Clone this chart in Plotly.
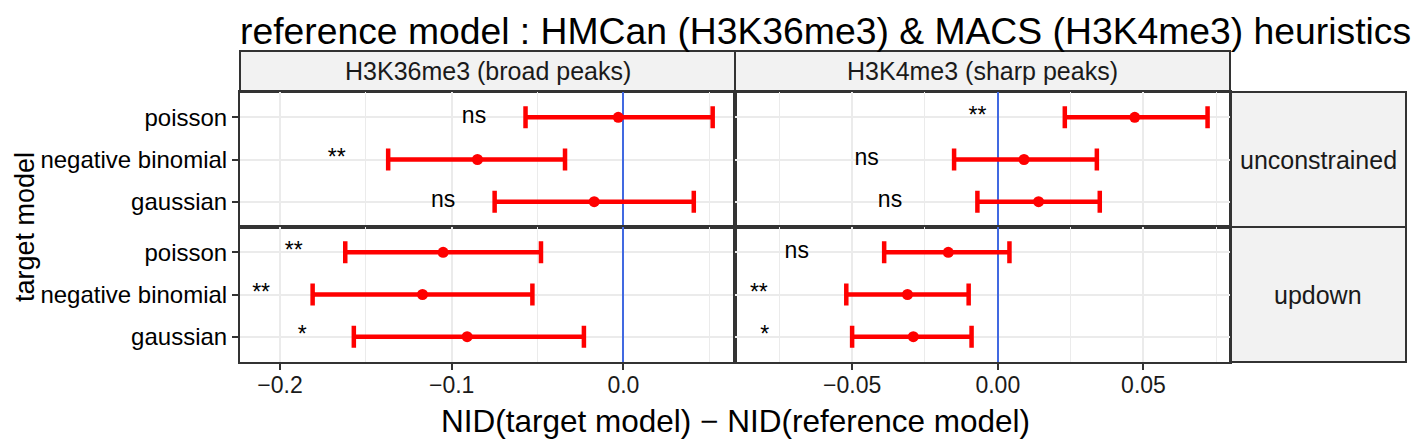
import plotly.graph_objects as go
from plotly.subplots import make_subplots

# ---------------- data ----------------
models = ["poisson", "negative binomial", "gaussian"]
marks = ["H3K36me3 (broad peaks)", "H3K4me3 (sharp peaks)"]
constraints = ["unconstrained", "updown"]

# H3K36me3 (broad peaks)
k36_unc_mean = [-0.003, -0.085, -0.017]
k36_unc_lo = [-0.057, -0.137, -0.075]
k36_unc_hi = [0.052, -0.034, 0.041]
k36_unc_sig = ["ns", "**", "ns"]

k36_up_mean = [-0.105, -0.117, -0.091]
k36_up_lo = [-0.162, -0.181, -0.157]
k36_up_hi = [-0.048, -0.053, -0.023]
k36_up_sig = ["**", "**", "*"]

# H3K4me3 (sharp peaks)
k4_unc_mean = [0.047, 0.009, 0.014]
k4_unc_lo = [0.023, -0.015, -0.007]
k4_unc_hi = [0.072, 0.034, 0.035]
k4_unc_sig = ["**", "ns", "ns"]

k4_up_mean = [-0.017, -0.031, -0.029]
k4_up_lo = [-0.039, -0.052, -0.050]
k4_up_hi = [0.004, -0.010, -0.009]
k4_up_sig = ["ns", "**", "*"]

label_offset = 0.03

left_ticks = [-0.2, -0.1, 0.0]
left_ticktext = ["\u22120.2", "\u22120.1", "0.0"]
left_minor = [-0.15, -0.05, 0.05]
right_ticks = [-0.05, 0.0, 0.05]
right_ticktext = ["\u22120.05", "0.00", "0.05"]
right_minor = [-0.075, -0.025, 0.025, 0.075]

panels = {
    (1, 1): (k36_unc_mean, k36_unc_lo, k36_unc_hi, k36_unc_sig),
    (2, 1): (k36_up_mean, k36_up_lo, k36_up_hi, k36_up_sig),
    (1, 2): (k4_unc_mean, k4_unc_lo, k4_unc_hi, k4_unc_sig),
    (2, 2): (k4_up_mean, k4_up_lo, k4_up_hi, k4_up_sig),
}

# ---------------- layout geometry ----------------
FONT = "Liberation Sans, Arial, Helvetica, sans-serif"
OFF = 8  # default page body margin
W, H = 1424 - OFF, 444 - OFF
P_LEFT, P_RIGHT, P_TOP, P_BOT = 240, 1230, 92, 362  # panel box in page pixels
ML, MT = P_LEFT - OFF, P_TOP - OFF
MR, MB = W - (P_RIGHT - OFF), H - (P_BOT - OFF)
PW, PH = P_RIGHT - P_LEFT, P_BOT - P_TOP


def px_x(x):
    return (x - P_LEFT) / PW


def px_y(y):
    return (P_BOT - y) / PH


fig = make_subplots(rows=2, cols=2, shared_xaxes=True, shared_yaxes=True,
                    horizontal_spacing=0, vertical_spacing=0)

RED = "#FF0000"
for (r, c), (mean, lo, hi, sig) in panels.items():
    plus = [h - m for h, m in zip(hi, mean)]
    minus = [m - l for m, l in zip(mean, lo)]
    fig.add_trace(go.Scatter(
        x=mean, y=models, mode="markers",
        marker=dict(color=RED, size=11),
        error_x=dict(type="data", symmetric=False, array=plus, arrayminus=minus,
                     color=RED, thickness=4.5, width=11),
        showlegend=False, hoverinfo="skip"), row=r, col=c)
    fig.add_trace(go.Scatter(
        x=[l - label_offset for l in lo], y=models, mode="text", text=sig,
        textposition="middle center",
        textfont=dict(family=FONT, size=23, color="black"),
        showlegend=False, hoverinfo="skip"), row=r, col=c)

GRID = "#EBEBEB"
BORDER = "#333333"
for r in (1, 2):
    for c in (1, 2):
        ticks = left_ticks if c == 1 else right_ticks
        ttext = left_ticktext if c == 1 else right_ticktext
        mnr = left_minor if c == 1 else right_minor
        rng = [-0.2233, 0.065] if c == 1 else [-0.0902, 0.0797]
        fig.update_xaxes(showgrid=True, gridcolor=GRID, gridwidth=1.5,
                         zeroline=True, zerolinecolor="#4169E1", zerolinewidth=2,
                         showline=True, mirror=True, linecolor=BORDER, linewidth=2,
                         tickfont=dict(family=FONT, size=23, color="#1A1A1A"),
                         ticklen=6, tickwidth=2, tickcolor=BORDER,
                         ticklabelstandoff=-5,
                         tickmode="array", tickvals=ticks, ticktext=ttext,
                         range=rng, ticks="outside" if r == 2 else "",
                         showticklabels=(r == 2),
                         minor=dict(tickvals=mnr, showgrid=True, gridcolor=GRID,
                                    gridwidth=1, ticks=""),
                         row=r, col=c)
        fig.update_yaxes(type="category", categoryorder="array", categoryarray=models,
                         range=[2.6, -0.6], showgrid=True, gridcolor=GRID, gridwidth=1.5,
                         showline=True, mirror=True, linecolor=BORDER, linewidth=2,
                         ticks="outside" if c == 1 else "", ticklen=6, tickwidth=2,
                         tickcolor=BORDER, showticklabels=(c == 1),
                         tickfont=dict(family=FONT, size=24, color="black"),
                         row=r, col=c)

shapes = []
annotations = []
STRIP_FILL = "#F2F2F2"
# top strips
for i, m in enumerate(marks):
    x0, x1 = i * 0.5, (i + 1) * 0.5
    y0, y1 = 1, px_y(51)
    shapes.append(dict(type="rect", xref="paper", yref="paper", x0=x0, x1=x1,
                       y0=y0, y1=y1, fillcolor=STRIP_FILL,
                       line=dict(color=BORDER, width=2), layer="below"))
    annotations.append(dict(xref="paper", yref="paper", x=(x0 + x1) / 2,
                            y=(y0 + y1) / 2, text=m, showarrow=False,
                            xanchor="center", yanchor="middle",
                            font=dict(family=FONT, size=25, color="#1A1A1A")))
# right strips
for j, cst in enumerate(constraints):
    y1, y0 = 1 - j * 0.5, 1 - (j + 1) * 0.5
    x0, x1 = 1, px_x(1406)
    shapes.append(dict(type="rect", xref="paper", yref="paper", x0=x0, x1=x1,
                       y0=y0, y1=y1, fillcolor=STRIP_FILL,
                       line=dict(color=BORDER, width=2), layer="below"))
    annotations.append(dict(xref="paper", yref="paper", x=(x0 + x1) / 2,
                            y=(y0 + y1) / 2, text=cst, showarrow=False,
                            xanchor="center", yanchor="middle",
                            font=dict(family=FONT, size=25, color="#1A1A1A")))

# axis titles
annotations.append(dict(xref="paper", yref="paper", x=0.5, y=px_y(421),
                        text="NID(target model) \u2212 NID(reference model)",
                        showarrow=False, xanchor="center", yanchor="middle",
                        font=dict(family=FONT, size=31.5, color="black")))
annotations.append(dict(xref="paper", yref="paper", x=px_x(25), y=0.5,
                        text="target model", textangle=-90,
                        showarrow=False, xanchor="center", yanchor="middle",
                        font=dict(family=FONT, size=27, color="black")))

fig.update_layout(
    width=W, height=H,
    margin=dict(l=ML, r=MR, t=MT, b=MB),
    paper_bgcolor="white", plot_bgcolor="white",
    title=dict(text="reference model : HMCan (H3K36me3) &amp; MACS (H3K4me3) heuristics",
               x=(P_LEFT - OFF) / W, xanchor="left", xref="container",
               y=1 - (31 - OFF) / H, yanchor="middle", yref="container",
               font=dict(family=FONT, size=37.3, color="black")),
    shapes=shapes, annotations=annotations,
    font=dict(family=FONT),
)

fig.write_html("out.html")
